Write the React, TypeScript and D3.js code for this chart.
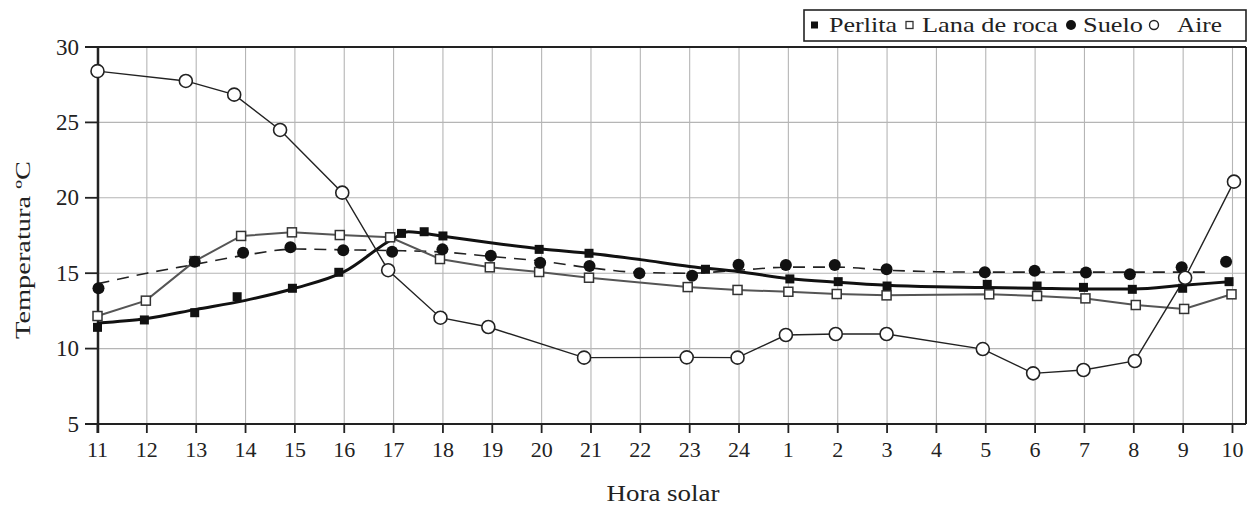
import React from "react";
import * as d3 from "d3";

const hourLabels = ["11","12","13","14","15","16","17","18","19","20","21","22","23","24","1","2","3","4","5","6","7","8","9","10"];
const yTicks = [5, 10, 15, 20, 25, 30];

// x positions are expressed as index along the hour axis (0 = 11h, 23 = 10h)
const aireX = [0, 1.79, 2.77, 3.70, 4.96, 5.89, 6.95, 7.92, 9.86, 11.94, 12.97, 13.95, 14.96, 15.99, 17.94, 18.96, 19.98, 21.02, 22.04, 23.03];
const aireY = [28.4, 27.75, 26.84, 24.5, 20.34, 15.2, 12.05, 11.43, 9.4, 9.42, 9.4, 10.9, 10.97, 10.97, 9.97, 8.36, 8.58, 9.18, 14.7, 21.07];

const lanaX = [0, 0.98, 1.97, 2.91, 3.94, 4.91, 5.93, 6.94, 7.95, 8.95, 9.96, 11.96, 12.97, 14.0, 14.98, 15.99, 18.07, 19.04, 20.02, 21.04, 22.02, 22.98];
const lanaY = [12.16, 13.18, 15.8, 17.47, 17.71, 17.53, 17.38, 15.94, 15.39, 15.08, 14.7, 14.08, 13.89, 13.77, 13.62, 13.53, 13.6, 13.49, 13.33, 12.89, 12.63, 13.6];

const perlitaX = [0, 0.95, 1.97, 2.83, 3.95, 4.89, 6.16, 6.62, 7.0, 8.95, 9.96, 12.32, 14.03, 15.01, 16.0, 18.03, 19.04, 19.98, 20.97, 21.99, 22.93];
const perlitaY = [11.41, 11.9, 12.38, 13.44, 14.0, 15.06, 17.64, 17.75, 17.47, 16.58, 16.32, 15.26, 14.62, 14.44, 14.15, 14.26, 14.15, 14.06, 13.93, 14.0, 14.44];
const perlitaLineX = [0, 1, 2, 3, 4, 5, 6, 6.3, 7, 8, 9, 10, 11, 12, 13, 14, 15, 16, 17, 18, 19, 20, 21, 22, 23];
const perlitaLineY = [11.7, 12.0, 12.6, 13.2, 14.0, 15.1, 17.3, 17.75, 17.45, 17.0, 16.6, 16.3, 15.9, 15.45, 15.1, 14.65, 14.4, 14.2, 14.1, 14.05, 14.0, 13.95, 13.95, 14.2, 14.45];

const sueloX = [0.02, 1.97, 2.95, 3.91, 4.98, 5.97, 6.99, 7.97, 8.97, 9.97, 10.98, 12.05, 12.99, 13.95, 14.94, 15.99, 17.98, 18.99, 20.03, 20.92, 21.97, 22.87];
const sueloY = [14.0, 15.76, 16.36, 16.72, 16.52, 16.43, 16.58, 16.16, 15.69, 15.47, 14.99, 14.83, 15.56, 15.54, 15.54, 15.26, 15.06, 15.17, 15.04, 14.93, 15.4, 15.76];
const sueloTrendX = [0, 1, 2, 3, 4, 5, 6, 7, 8, 9, 10, 11, 12, 13, 14, 15, 16, 17, 18, 19, 20, 21, 22, 22.6];
const sueloTrendY = [14.3, 15.0, 15.6, 16.2, 16.6, 16.55, 16.5, 16.4, 16.1, 15.8, 15.35, 15.05, 15.0, 15.2, 15.4, 15.4, 15.2, 15.1, 15.07, 15.07, 15.07, 15.07, 15.07, 15.07];

const legendLabels = ["Perlita", "Lana de roca", "Suelo", "Aire"];

const fontStyle = { fontFamily: "Liberation Serif" };

export default function App() {
  const x = d3.scaleLinear().domain([0, 23]).range([97.5, 1232.5]);
  const y = d3.scaleLinear().domain([5, 30]).range([424, 47]);
  const left = 98, right = 1246, top = 47, bottom = 424;

  const zip = (xs: number[], ys: number[]) => xs.map((v, i) => [v, ys[i]] as [number, number]);
  const straight = d3.line<[number, number]>().x(d => x(d[0])).y(d => y(d[1]));
  const smooth = d3.line<[number, number]>().x(d => x(d[0])).y(d => y(d[1])).curve(d3.curveMonotoneX);

  const aire = zip(aireX, aireY);
  const lana = zip(lanaX, lanaY);
  const perlita = zip(perlitaX, perlitaY);
  const suelo = zip(sueloX, sueloY);

  const sq = 9;
  return (
    <svg width={1255} height={507} style={{ position: "absolute", left: 0, top: 0, background: "#fff" }}>
      <rect x={0} y={0} width={1255} height={507} fill="#fff" />
      {/* grid */}
      {hourLabels.map((_, i) => (
        <line key={"vg" + i} x1={x(i)} x2={x(i)} y1={top} y2={bottom} stroke="#b5b5b5" strokeWidth={1.1} />
      ))}
      {yTicks.filter(t => t > 5 && t < 30).map(t => (
        <line key={"hg" + t} x1={left} x2={right} y1={y(t)} y2={y(t)} stroke="#b5b5b5" strokeWidth={1.1} />
      ))}
      {/* frame */}
      <line x1={85} x2={right} y1={top} y2={top} stroke="#222" strokeWidth={2} />
      <line x1={right} x2={right} y1={top} y2={bottom} stroke="#222" strokeWidth={2} />
      <line x1={85} x2={right} y1={bottom} y2={bottom} stroke="#222" strokeWidth={2} />
      <line x1={left} x2={left} y1={top} y2={433} stroke="#222" strokeWidth={2.5} />
      {/* y ticks */}
      {yTicks.map(t => (
        <g key={"yt" + t}>
          <line x1={85} x2={left} y1={y(t)} y2={y(t)} stroke="#222" strokeWidth={1.8} />
          <text x={79} y={y(t) + 7.5} textAnchor="end" style={fontStyle} fontSize={23} fill="#222">{t}</text>
        </g>
      ))}
      {/* x ticks */}
      {hourLabels.map((lab, i) => (
        <g key={"xt" + i}>
          <line x1={x(i)} x2={x(i)} y1={bottom} y2={433} stroke="#222" strokeWidth={1.8} />
          <text x={x(i)} y={457} textAnchor="middle" style={fontStyle} fontSize={22} fill="#222">{lab}</text>
        </g>
      ))}
      {/* axis titles */}
      <text x={663} y={501} textAnchor="middle" style={fontStyle} fontSize={23} fill="#222" textLength={113} lengthAdjust="spacingAndGlyphs">Hora solar</text>
      <text transform="translate(30,250) rotate(-90)" textAnchor="middle" style={fontStyle} fontSize={22} fill="#222" textLength={178} lengthAdjust="spacingAndGlyphs">Temperatura ºC</text>

      {/* lines */}
      <path d={smooth(zip(sueloTrendX, sueloTrendY)) || ""} fill="none" stroke="#222" strokeWidth={1.6} strokeDasharray="12,8" />
      <path d={straight(lana) || ""} fill="none" stroke="#555" strokeWidth={2} />
      <path d={smooth(zip(perlitaLineX, perlitaLineY)) || ""} fill="none" stroke="#111" strokeWidth={3} />
      <path d={straight(aire) || ""} fill="none" stroke="#222" strokeWidth={1.4} />

      {/* markers */}
      {lana.map((d, i) => (
        <rect key={"lm" + i} x={x(d[0]) - sq / 2} y={y(d[1]) - sq / 2} width={sq} height={sq} fill="#fff" stroke="#333" strokeWidth={1.5} />
      ))}
      {perlita.map((d, i) => (
        <rect key={"pm" + i} x={x(d[0]) - sq / 2} y={y(d[1]) - sq / 2} width={sq} height={sq} fill="#111" />
      ))}
      {suelo.map((d, i) => (
        <circle key={"sm" + i} cx={x(d[0])} cy={y(d[1])} r={6} fill="#111" />
      ))}
      {aire.map((d, i) => (
        <circle key={"am" + i} cx={x(d[0])} cy={y(d[1])} r={6.5} fill="#fff" stroke="#222" strokeWidth={1.6} />
      ))}

      {/* legend */}
      <rect x={804} y={10} width={442} height={31} fill="#fff" stroke="#222" strokeWidth={1.6} />
      <rect x={811} y={21.5} width={7} height={7} fill="#111" />
      <text x={829} y={32} style={fontStyle} fontSize={22} fill="#222" textLength={68} lengthAdjust="spacingAndGlyphs">{legendLabels[0]}</text>
      <rect x={906} y={21.5} width={7} height={7} fill="#fff" stroke="#333" strokeWidth={1.3} />
      <text x={922} y={32} style={fontStyle} fontSize={22} fill="#222" textLength={136} lengthAdjust="spacingAndGlyphs">{legendLabels[1]}</text>
      <circle cx={1071} cy={25} r={5} fill="#111" />
      <text x={1083} y={32} style={fontStyle} fontSize={22} fill="#222" textLength={60} lengthAdjust="spacingAndGlyphs">{legendLabels[2]}</text>
      <circle cx={1154} cy={25} r={4.5} fill="#fff" stroke="#222" strokeWidth={1.4} />
      <text x={1177} y={32} style={fontStyle} fontSize={22} fill="#222" textLength={45} lengthAdjust="spacingAndGlyphs">{legendLabels[3]}</text>
    </svg>
  );
}
